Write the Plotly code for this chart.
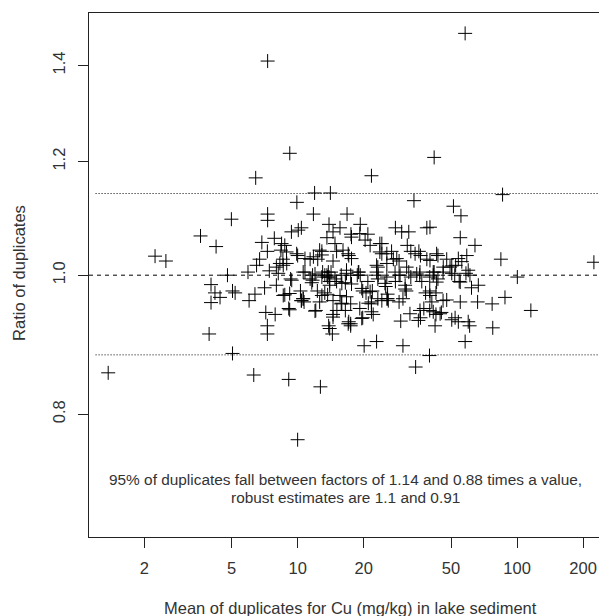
import math
import plotly.graph_objects as go

# ---- data: mean of duplicates (mg/kg) and ratio of duplicates ----
mean_a = [1.37, 2.24, 2.51, 3.61, 4.25, 3.95, 4.03, 4.03, 4.20, 4.43,
          4.79, 4.99, 5.05, 5.19, 5.05, 5.94, 6.01, 6.31, 6.44, 6.39,
          6.50, 6.71, 6.87, 7.07, 7.16, 7.28, 7.28, 7.28, 7.30, 7.30,
          7.30, 7.43, 7.90, 7.83, 8.00, 8.16, 8.39, 8.57, 8.74, 8.74,
          8.92, 9.11, 9.29, 9.11, 9.21, 9.37, 9.92, 10.0, 10.0, 10.07,
          10.3, 10.4, 10.6, 10.7, 10.8, 11.4, 11.8, 11.7, 12.1, 11.95,
          12.35, 12.6, 12.7, 12.9, 13.3, 13.6, 13.9, 14.1, 13.7, 13.85,
          14.4, 14.5, 14.8, 15.05, 15.6, 16.8, 17.1, 17.5, 17.45, 17.45,
          19.3, 19.8, 20.1, 21.7, 22.9, 20.9, 21.4, 21.7, 22.1, 24.2,
          29.0, 29.5, 30.2, 27.9, 29.8, 32.1, 31.6, 33.9, 34.5, 35.7,
          36.3, 38.8, 39.9, 41.9, 42.3, 43.6, 45.2, 47.8, 51.3, 52.2,
          55.5, 55.1, 55.1, 58.0, 58.0, 59.0, 59.9, 60.8, 64.3, 62.0,
          66.1, 77.0, 77.5, 84.4, 85.9, 88.1, 100.3, 115.6, 224.0]
ratio_a = [0.855, 1.031, 1.023, 1.065, 1.047, 0.910, 0.985, 0.957, 0.972, 0.965,
           1.000, 1.094, 0.975, 0.972, 0.882, 1.005, 0.960, 0.852, 1.169, 0.970,
           1.016, 1.026, 1.054, 0.980, 0.942, 0.922, 0.910, 1.039, 1.103, 1.092,
           1.410, 1.007, 0.939, 1.061, 1.013, 1.003, 1.041, 1.026, 1.049, 0.969,
           1.019, 0.948, 0.994, 0.846, 1.216, 1.072, 1.124, 0.768, 1.032, 1.075,
           0.975, 1.079, 0.963, 0.958, 1.005, 1.026, 1.103, 0.992, 0.945, 1.141,
           1.026, 0.958, 0.836, 1.039, 1.000, 1.062, 1.085, 1.141, 0.969, 0.922,
           0.910, 0.939, 1.052, 1.039, 1.079, 1.103, 1.032, 1.068, 0.925, 0.955,
           1.085, 0.934, 0.893, 1.173, 0.899, 1.068, 1.049, 0.955, 0.939, 1.052,
           0.958, 0.929, 0.893, 1.079, 1.072, 1.072, 1.049, 1.127, 0.863, 1.039,
           0.934, 1.079, 0.879, 1.208, 0.922, 1.032, 0.942, 1.026, 1.117, 0.934,
           1.100, 1.062, 0.958, 0.899, 1.474, 1.032, 0.928, 0.922, 1.049, 0.980,
           0.958, 0.955, 0.919, 1.026, 1.138, 0.965, 0.997, 0.945, 1.021]

mean_b = [14.5, 19.2, 17.6, 20.3, 23.7, 8.9, 9.9, 12.6, 12.9, 16.1,
          17.0, 23.7, 10.8, 11.8, 14.5, 17.6, 8.6, 10.6, 13.8, 16.7,
          18.9, 22.9, 22.9, 40.1, 25.5, 34.3, 43.0, 28.3, 40.1, 54.0,
          25.5, 31.4, 46.1, 50.4, 59.9, 27.8, 36.1, 41.5, 12.0, 13.6,
          13.9, 16.7, 23.3, 9.4, 11.6, 14.0, 15.9, 17.6, 19.6, 21.4,
          8.6, 9.2, 12.9, 15.6, 16.7, 10.4, 15.9, 21.0, 9.2, 12.0,
          15.1, 19.2, 21.7, 14.5, 19.6, 17.0, 14.0, 25.5, 29.3, 34.9,
          41.5, 50.4, 61.0, 25.0, 30.9, 43.0, 55.1, 66.6, 25.5, 40.1,
          47.8, 32.5, 36.1, 41.5, 44.6, 35.5, 50.4, 54.0, 8.0, 8.45,
          8.3]
ratio_b = [1.072, 1.069, 1.063, 1.058, 1.052, 1.038, 1.035, 1.041, 1.033, 1.041,
           1.035, 1.038, 1.027, 1.030, 1.023, 1.027, 1.016, 1.005, 1.005, 1.008,
           1.005, 1.016, 1.005, 1.080, 1.035, 1.035, 1.035, 1.027, 1.024, 1.027,
           1.019, 1.013, 1.013, 1.015, 1.008, 1.005, 1.005, 1.005, 1.002, 1.000,
           0.997, 1.003, 1.000, 0.992, 0.988, 0.984, 0.987, 0.986, 0.979, 0.974,
           0.968, 0.971, 0.968, 0.968, 0.966, 0.960, 0.956, 0.956, 0.946, 0.944,
           0.945, 0.948, 0.943, 0.935, 0.933, 0.925, 0.918, 0.997, 1.000, 1.002,
           1.000, 1.003, 1.000, 0.987, 0.984, 0.989, 0.989, 0.984, 0.963, 0.968,
           0.961, 0.940, 0.945, 0.943, 0.940, 0.930, 0.931, 0.928, 0.984, 1.052,
           1.019]

mean_c = [23.2, 24.2, 25.7, 25.9, 25.7, 25.2, 23.2, 21.9, 20.5, 19.3,
          19.0, 18.7, 30.9, 31.3, 30.2, 32.8, 36.0, 36.8, 38.3, 40.0,
          42.7, 40.9, 42.7, 40.0, 37.6, 46.0, 49.5, 52.5, 52.0, 54.5,
          56.0, 58.5, 27.3, 29.0, 26.8, 24.2, 23.2, 15.8, 15.05, 16.5,
          17.45, 14.8, 14.0, 13.0, 12.9, 13.7, 14.2, 11.4, 11.7, 10.4,
          10.6, 12.3, 13.3, 14.5, 15.8, 16.5, 17.1, 17.45, 19.8, 20.9,
          21.7, 27.9, 29.0, 32.1, 32.8, 36.3, 38.8, 41.9, 40.0, 43.6,
          46.0]
ratio_c = [0.963, 0.960, 0.963, 0.960, 0.970, 0.982, 0.994, 0.975, 0.972, 1.000,
           1.005, 1.000, 0.978, 0.975, 0.963, 0.997, 1.000, 0.990, 0.972, 0.975,
           0.972, 0.958, 0.939, 0.945, 0.948, 0.960, 1.013, 1.016, 1.000, 0.990,
           1.022, 1.003, 1.026, 1.023, 1.039, 1.035, 1.013, 1.000, 0.990, 0.988,
           1.000, 0.994, 0.990, 1.005, 0.997, 0.997, 1.005, 0.994, 1.000, 0.960,
           0.963, 0.975, 0.972, 0.960, 0.955, 0.945, 0.928, 0.922, 0.975, 0.990,
           0.958, 0.990, 1.000, 1.005, 1.039, 1.032, 1.026, 1.005, 0.997, 0.994,
           1.005]

x_ticks = [2, 5, 10, 20, 50, 100, 200]
x_tick_labels = ["2", "5", "10", "20", "50", "100", "200"]
y_ticks = [0.8, 1.0, 1.2, 1.4]
y_tick_labels = ["0.8", "1.0", "1.2", "1.4"]

x_limits = [1.12, 257.0]
y_limits = [0.657, 1.523]
center_ratio = 1.0
band_95 = [1.14, 0.88]
band_start = 1.2

note_lines = ["95% of duplicates fall between factors of 1.14 and 0.88 times a value,",
              "robust estimates are 1.1 and 0.91"]
x_title = "Mean of duplicates for Cu (mg/kg) in lake sediment"
y_title = "Ratio of duplicates"

FONT = "Liberation Sans, Arial, sans-serif"
TXT = "#333333"
LINE = "#222222"

mean_all = mean_a + mean_b + mean_c
ratio_all = ratio_a + ratio_b + ratio_c

fig = go.Figure()

for level in band_95:
    fig.add_trace(go.Scatter(
        x=[band_start, x_limits[1]], y=[level, level], mode="lines",
        line=dict(color="black", width=1, dash="1px,2px"),
        showlegend=False, hoverinfo="skip"))

fig.add_trace(go.Scatter(
    x=x_limits, y=[center_ratio, center_ratio], mode="lines",
    line=dict(color="black", width=1, dash="4px,4px"),
    showlegend=False, hoverinfo="skip"))

fig.add_trace(go.Scatter(
    x=mean_all, y=ratio_all, mode="markers",
    marker=dict(symbol="cross-thin-open", size=10, color="black",
                line=dict(color="black", width=1)),
    showlegend=False))

axis_common = dict(
    type="log", showgrid=False, zeroline=False,
    ticks="outside", ticklen=10, tickwidth=1, tickcolor=LINE,
    showline=True, linecolor=LINE, linewidth=1,
    tickfont=dict(family=FONT, size=16.5, color=TXT),
)

# the page body adds an 8px offset, so the figure is sized to the remaining window
fig.update_layout(
    width=599, height=608,
    margin=dict(l=81, r=0, t=5, b=79),
    paper_bgcolor="white", plot_bgcolor="white",
    font=dict(family=FONT, color=TXT),
    xaxis=dict(range=[math.log10(x_limits[0]), math.log10(x_limits[1])],
               tickvals=x_ticks, ticktext=x_tick_labels, mirror=True,
               ticklabelstandoff=6, **axis_common),
    yaxis=dict(range=[math.log10(y_limits[0]), math.log10(y_limits[1])],
               tickvals=y_ticks, ticktext=y_tick_labels, tickangle=-90,
               ticklabelstandoff=6, **axis_common),
    annotations=[
        dict(text=note_lines[0], xref="paper", yref="paper", x=0.495, y=0.1088,
             xanchor="center", yanchor="middle", showarrow=False,
             font=dict(family=FONT, size=15.4, color=TXT)),
        dict(text=note_lines[1], xref="paper", yref="paper", x=0.495, y=0.0754,
             xanchor="center", yanchor="middle", showarrow=False,
             font=dict(family=FONT, size=15.4, color=TXT)),
        dict(text=x_title, xref="paper", yref="paper", x=0.5055, y=-0.1355,
             xanchor="center", yanchor="middle", showarrow=False,
             font=dict(family=FONT, size=16.5, color=TXT)),
        dict(text=y_title, xref="paper", yref="paper", x=0, y=0.504, xshift=-70,
             xanchor="center", yanchor="middle", textangle=-90, showarrow=False,
             font=dict(family=FONT, size=16.5, color=TXT)),
    ],
)

fig.write_html("out.html")
